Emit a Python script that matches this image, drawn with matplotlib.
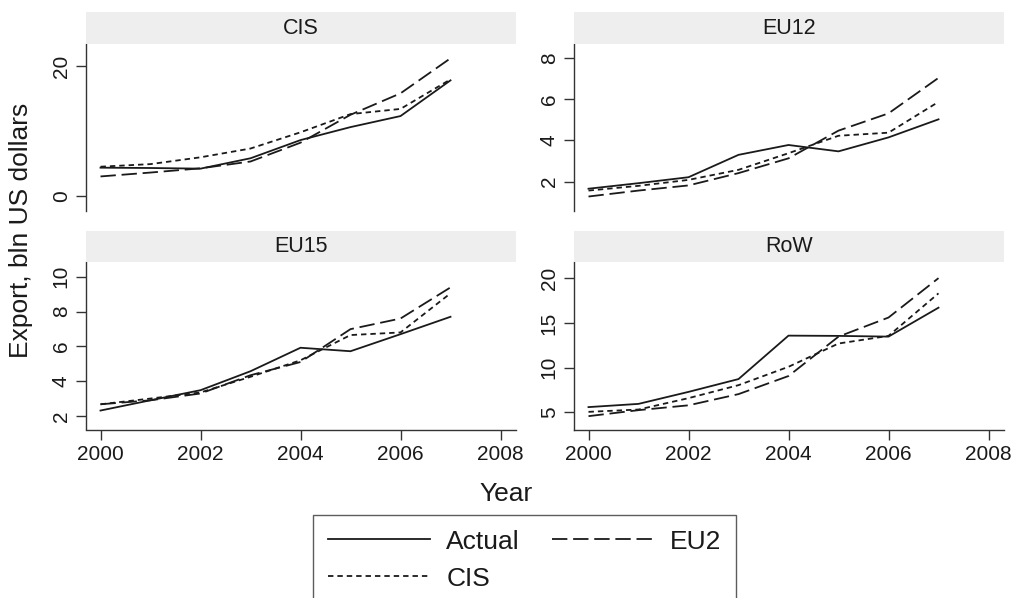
import matplotlib
matplotlib.use("Agg")
import matplotlib.pyplot as plt
from matplotlib.patches import Rectangle

plt.rcParams["font.family"] = ["Liberation Sans", "DejaVu Sans"]

years = [2000, 2001, 2002, 2003, 2004, 2005, 2006, 2007]
panels = ["CIS", "EU12", "EU15", "RoW"]

# values, bln US dollars
actual = {
    "CIS": [4.35, 4.3, 4.2, 5.8, 8.6, 10.6, 12.3, 17.8],
    "EU12": [1.65, 1.92, 2.21, 3.3, 3.78, 3.47, 4.15, 5.03],
    "EU15": [2.31, 2.9, 3.48, 4.57, 5.92, 5.72, 6.7, 7.7],
    "RoW": [5.6, 5.96, 7.3, 8.73, 13.58, 13.55, 13.47, 16.7],
}
cis = {
    "CIS": [4.5, 4.9, 5.95, 7.3, 9.8, 12.6, 13.4, 17.95],
    "EU12": [1.56, 1.79, 2.08, 2.57, 3.38, 4.23, 4.38, 5.88],
    "EU15": [2.67, 3.0, 3.35, 4.25, 5.2, 6.65, 6.8, 9.05],
    "RoW": [5.07, 5.33, 6.6, 8.05, 10.1, 12.7, 13.55, 18.3],
}
eu2 = {
    "CIS": [3.0, 3.6, 4.25, 5.3, 8.2, 12.5, 15.8, 21.2],
    "EU12": [1.27, 1.56, 1.81, 2.41, 3.13, 4.48, 5.32, 7.05],
    "EU15": [2.67, 2.9, 3.29, 4.34, 5.1, 6.99, 7.6, 9.39],
    "RoW": [4.59, 5.26, 5.8, 7.05, 9.07, 13.47, 15.6, 20.0],
}

yticks = {
    "CIS": [0, 20],
    "EU12": [2, 4, 6, 8],
    "EU15": [2, 4, 6, 8, 10],
    "RoW": [5, 10, 15, 20],
}
ylims = {
    "CIS": (-2.4, 23.4),
    "EU12": (0.54, 8.7),
    "EU15": (1.22, 10.85),
    "RoW": (3.1, 21.8),
}

W, H = 1015, 598
fig = plt.figure(figsize=(W / 100, H / 100), dpi=100)

ink = "#1a1a1a"
lw = 1.3
cols = [86, 574]
rows = [44, 262]
aw, ah = 430, 167.5

for i, name in enumerate(panels):
    r, c = divmod(i, 2)
    left = cols[c] / W
    bottom = 1 - (rows[r] + ah) / H
    ax = fig.add_axes([left, bottom, aw / W, ah / H])

    ax.plot(years, actual[name], color=ink, lw=lw, label="Actual")
    ax.plot(years, cis[name], color=ink, lw=lw, dashes=(3.0, 2.2), label="CIS")
    ax.plot(years, eu2[name], color=ink, lw=lw, dashes=(8.5, 3.2), label="EU2")

    ax.set_xlim(1999.71, 2008.31)
    ax.set_ylim(*ylims[name])
    ax.set_yticks(yticks[name])
    ax.set_xticks([2000, 2002, 2004, 2006, 2008])

    for s in ["top", "right"]:
        ax.spines[s].set_visible(False)
    for s in ["left", "bottom"]:
        ax.spines[s].set_color("#333333")
        ax.spines[s].set_linewidth(1.0)

    ax.tick_params(axis="both", direction="out", length=7, width=1.0,
                   color="#333333", labelsize=15, labelcolor=ink, pad=4)
    ax.tick_params(axis="y", labelrotation=90)
    for lab in ax.get_yticklabels():
        lab.set_va("center")

    if r == 0:
        ax.spines["bottom"].set_visible(False)
        ax.tick_params(axis="x", bottom=False, labelbottom=False)

    # strip header
    strip_top = rows[r] - (32 if r == 0 else 31)
    strip = Rectangle((cols[c] / W, 1 - rows[r] / H), aw / W,
                      (rows[r] - strip_top) / H, transform=fig.transFigure,
                      facecolor="#eeeeee", edgecolor="none")
    fig.patches.append(strip)
    fig.text((cols[c] + aw / 2) / W, 1 - (rows[r] + strip_top) / 2 / H, name,
             ha="center", va="center", fontsize=15.5, color=ink)

    if i == 0:
        handles, labels = ax.get_legend_handles_labels()

fig.text(21 / W, 1 - 230 / H, "Export, bln US dollars", rotation=90,
         ha="center", va="center", fontsize=19, color=ink)
fig.text(506 / W, 1 - 494 / H, "Year", ha="center", va="center",
         fontsize=19, color=ink)

leg = fig.legend(handles, labels, ncol=2, loc="upper left",
                 bbox_to_anchor=(313 / W, 1 - 515 / H), fontsize=19,
                 frameon=True, fancybox=False, handlelength=3.9,
                 handletextpad=0.6, columnspacing=1.2, labelspacing=0.5,
                 borderpad=0.55, borderaxespad=0)
leg.get_frame().set_edgecolor("#333333")
leg.get_frame().set_linewidth(1.0)
for t in leg.get_texts():
    t.set_color(ink)

fig.savefig("out.png", dpi=100, facecolor="white")
